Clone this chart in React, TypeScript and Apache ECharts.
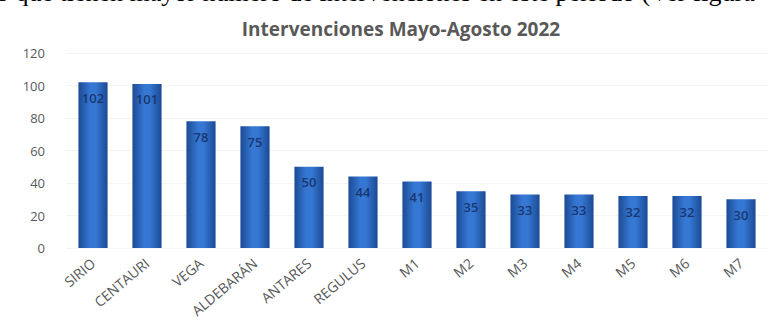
import React, { useEffect, useRef } from "react";
import * as echarts from "echarts";

const categories = ["SIRIO", "CENTAURI", "VEGA", "ALDEBARÁN", "ANTARES", "REGULUS", "M1", "M2", "M3", "M4", "M5", "M6", "M7"];
const values = [102, 101, 78, 75, 50, 44, 41, 35, 33, 33, 32, 32, 30];
const titleText = "Intervenciones Mayo-Agosto 2022";
const topLine = "o que tienen mayor número de intervenciones en este periodo (Ver figura";

export default function App() {
  const ref = useRef<HTMLDivElement>(null);
  useEffect(() => {
    document.body.style.margin = "0";
    const chart = echarts.init(ref.current!, null, { renderer: "svg" });
    chart.setOption({
      animation: false,
      backgroundColor: "#ffffff",
      title: {
        text: titleText,
        left: 396,
        textAlign: "center",
        top: 14,
        textStyle: { fontFamily: "Open Sans", fontSize: 19, fontWeight: "bold", color: "#595959" },
      },
      graphic: [
        {
          type: "text",
          x: -4,
          y: 5,
          style: { text: topLine, font: "26px 'Liberation Serif'", fill: "#000", verticalAlign: "bottom" },
        },
      ],
      grid: { left: 66, right: 0, top: 53, bottom: 82 },
      xAxis: {
        type: "category",
        data: categories,
        axisLine: { show: false },
        axisTick: { show: false },
        axisLabel: { rotate: 40, fontFamily: "Open Sans", fontSize: 14, color: "#595959", margin: 13, interval: 0 },
      },
      yAxis: {
        type: "value",
        min: 0,
        max: 120,
        interval: 20,
        axisLine: { show: false },
        axisTick: { show: false },
        splitLine: { lineStyle: { color: "#f4f4f4" } },
        axisLabel: { fontFamily: "Open Sans", fontSize: 13, color: "#595959", margin: 21 },
      },
      series: [
        {
          type: "bar",
          data: values,
          barWidth: "54%",
          itemStyle: {
            color: new echarts.graphic.LinearGradient(0, 0, 1, 0, [
              { offset: 0, color: "#1b4a94" },
              { offset: 0.4, color: "#3577d2" },
              { offset: 0.6, color: "#3577d2" },
              { offset: 1, color: "#1b4a94" },
            ]),
          },
          label: {
            show: true,
            position: "insideTop",
            distance: 9,
            fontFamily: "Open Sans",
            fontSize: 13,
            fontWeight: 600,
            color: "#1a3670",
          },
        },
      ],
    });
    return () => chart.dispose();
  }, []);
  return <div ref={ref} style={{ width: 768, height: 330 }} />;
}
